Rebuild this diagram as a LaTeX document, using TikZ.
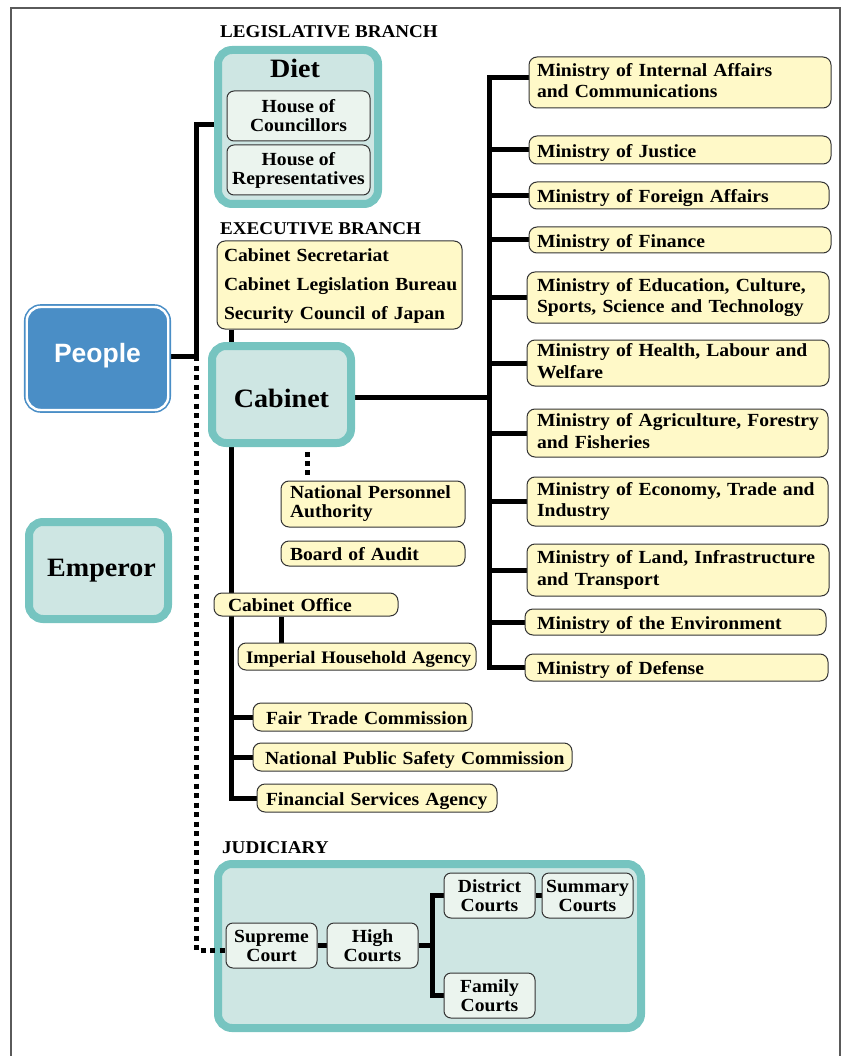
\documentclass[tikz,border=0pt]{standalone}
\usepackage{fontspec}
\setmainfont{Liberation Serif}[FakeStretch=1.06]
\setsansfont{Liberation Sans}
\usetikzlibrary{calc}
\pgfdeclarelayer{back}
\pgfdeclarelayer{background}
\pgfsetlayers{back,background,main}
\definecolor{tealB}{RGB}{118,196,192}
\definecolor{tealF}{RGB}{206,230,227}
\definecolor{lightF}{RGB}{235,244,238}
\definecolor{yelF}{RGB}{255,249,200}
\definecolor{bord}{RGB}{51,51,51}
\definecolor{pblue}{RGB}{74,142,198}
\definecolor{frameC}{RGB}{90,90,90}
\newcommand\lns[1]{\begin{tabular}{@{}l@{}}#1\end{tabular}}
\tikzset{
 conn/.style={line width=5pt, black},
 dotc/.style={line width=5pt, black, dash pattern=on 5pt off 4.5pt},
 ybox/.style={draw=bord, line width=1pt, fill=yelF, rounded corners=8pt, inner xsep=8pt, inner ysep=0pt, align=left, font=\fontsize{18.5}{21.5}\selectfont\bfseries},
 one/.style={text height=17pt, text depth=2.5pt},
 cbox/.style={draw=bord, line width=1pt, fill=lightF, rounded corners=7pt, inner sep=0pt, align=center, font=\fontsize{18.5}{19}\selectfont\bfseries, minimum width=91pt, minimum height=45pt},
 tbox/.style={draw=tealB, line width=8pt, fill=tealF, rounded corners=14pt, inner sep=0pt},
 big/.style={font=\fontsize{26.5}{30}\selectfont\bfseries},
 lbl/.style={anchor=west, inner sep=0pt, font=\fontsize{18}{21}\selectfont\bfseries},
}
\begin{document}
\begin{tikzpicture}[x=1pt,y=-1pt]
\useasboundingbox (0,0) rectangle (843,1056);
\begin{pgfonlayer}{back}
 \draw[line width=1.3pt, frameC] (11,1056) -- (11,8) -- (840,8) -- (840,1056);
 \node[tbox, minimum width=160pt, minimum height=154pt] (diet) at (298,127) {};
 \node[tbox, minimum width=423pt, minimum height=164pt] (jud) at (429.5,946) {};
\end{pgfonlayer}

% labels
\node[lbl] (lleg) at (220,31.5) {LEGISLATIVE BRANCH};
\node[lbl] (lexe) at (220,229) {EXECUTIVE BRANCH};
\node[lbl] (ljud) at (222,847.5) {JUDICIARY};

% Diet
\node[big, inner sep=0pt] (dietT) at (295,68) {Diet};
\node[cbox, minimum width=143pt, minimum height=50pt] (hoc) at (298.5,116) {House of\\Councillors};
\node[cbox, minimum width=143pt, minimum height=50pt] (hor) at (298.5,170) {House of\\Representatives};

% People / Emperor / Cabinet
\node[draw=pblue, line width=1.6pt, double=white, double distance=2.4pt, fill=pblue, rounded corners=14pt, minimum width=141.5pt, minimum height=103pt, inner sep=0pt, text=white, text depth=11.5pt, font=\sffamily\bfseries\fontsize{26.5}{30}\selectfont] (people) at (97.5,358.5) {People};
\node[tbox, big, minimum width=139pt, minimum height=97pt] (emp) at (98.5,570.5) {\hspace*{6pt}Emperor};
\node[tbox, big, text height=25pt, text depth=0pt, minimum width=139pt, minimum height=97pt] (cab) at (281.5,394.5) {Cabinet};

% executive boxes
\node[ybox, font=\fontsize{18.5}{29}\selectfont\bfseries, inner xsep=7pt, text width=231pt, minimum height=88pt] (secr) at (339.5,285) {\lns{Cabinet Secretariat\\Cabinet Legislation Bureau\\Security Council of Japan}};
\node[ybox, font=\fontsize{18.5}{19}\selectfont\bfseries, inner xsep=9pt, text width=166pt, minimum height=46pt] (npa) at (373,504) {\lns{National Personnel\\Authority}};
\node[ybox, one, inner xsep=9pt, text width=166pt, minimum height=25pt] (boa) at (373,553.5) {\lns{Board of Audit}};
\node[ybox, one, inner xsep=14pt, text width=156pt, minimum height=23pt] (cabo) at (306,604.5) {\lns{Cabinet Office}};
\node[ybox, one, font=\fontsize{17.6}{21}\selectfont\bfseries, inner xsep=8pt, text width=222pt, minimum height=27pt] (iha) at (357,656.5) {\lns{Imperial Household Agency}};
\node[ybox, one, inner xsep=13pt, text width=193pt, minimum height=28pt] (ftc) at (362.5,717) {\lns{Fair Trade Commission}};
\node[ybox, one, inner xsep=12pt, text width=295pt, minimum height=28pt] (npsc) at (412.5,757) {\lns{National Public Safety Commission}};
\node[ybox, one, inner xsep=9pt, text width=222pt, minimum height=28pt] (fsa) at (377,798) {\lns{Financial Services Agency}};

% ministries
\node[ybox, text width=286pt, minimum height=51pt] (m1) at (680,82.5) {\lns{Ministry of Internal Affairs\\and Communications}};
\node[ybox, one, text width=286pt, minimum height=28pt] (m2) at (680,150) {\lns{Ministry of Justice}};
\node[ybox, one, text width=284pt, minimum height=27pt] (m3) at (679,195.5) {\lns{Ministry of Foreign Affairs}};
\node[ybox, one, text width=286pt, minimum height=26pt] (m4) at (680,240) {\lns{Ministry of Finance}};
\node[ybox, inner xsep=10pt, text width=282pt, minimum height=51pt] (m5) at (678,297.5) {\lns{Ministry of Education, Culture,\\Sports, Science and Technology}};
\node[ybox, inner xsep=10pt, text width=282pt, minimum height=46pt] (m6) at (678,363) {\lns{Ministry of Health, Labour and\\Welfare}};
\node[ybox, inner xsep=10pt, text width=281pt, minimum height=48pt] (m7) at (677.5,433) {\lns{Ministry of Agriculture, Forestry\\and Fisheries}};
\node[ybox, inner xsep=10pt, text width=281pt, minimum height=49pt] (m8) at (677.5,501.5) {\lns{Ministry of Economy, Trade and\\Industry}};
\node[ybox, inner xsep=10pt, text width=282pt, minimum height=52pt] (m9) at (678,570) {\lns{Ministry of Land, Infrastructure\\and Transport}};
\node[ybox, one, inner xsep=12pt, text width=277pt, minimum height=26pt] (m10) at (675.5,622) {\lns{Ministry of the Environment}};
\node[ybox, one, inner xsep=12pt, text width=279pt, minimum height=27pt] (m11) at (676.5,667.5) {\lns{Ministry of Defense}};

% courts
\node[cbox] (sc) at (271.5,945.5) {Supreme\\Court};
\node[cbox] (hc) at (372.5,945.5) {High\\Courts};
\node[cbox] (dc) at (489.5,895.5) {District\\Courts};
\node[cbox] (smc) at (587.5,895.5) {Summary\\Courts};
\node[cbox] (fc) at (489.5,995.5) {Family\\Courts};

% connectors
\coordinate (lj) at (196,356);
\coordinate (ld) at (196,950);
\coordinate (sp) at (231.5,0);
\coordinate (ci) at (281,0);
\coordinate (cn) at (307,0);
\coordinate (msp) at (489.5,0);
\coordinate (jx) at (432,0);
\begin{pgfonlayer}{background}
 \draw[conn] (people.east |- lj) -- (lj) |- ($(diet.west)+(0,-2)$);
 \draw[dotc] (lj) -- (ld) -- (ld -| sc.west);
 \draw[conn] (secr.south -| sp) -- (sp |- fsa.west) -- (fsa.west);
 \draw[conn] (sp |- ftc.west) -- (ftc.west);
 \draw[conn] (sp |- npsc.west) -- (npsc.west);
 \draw[conn] (cabo.south -| ci) -- (iha.north -| ci);
 \draw[dotc, dash pattern=on 5pt off 4pt] ($(cab.south -| cn)+(0,5)$) -- ($(npa.north -| cn)+(0,-6)$);
 \draw[conn] ($(cab.east)+(0,2.5)$) -- ($(cab.east -| msp)+(0,2.5)$);
 \draw[conn] ($(m1.west)+(0,-5)$) -| (msp |- m11.west) -- (m11.west);
 \foreach \m in {m2,m3,m4,m5,m6,m7,m8,m9,m10} \draw[conn] (msp |- \m.west) -- (\m.west);
 \draw[conn] (sc.east) -- (hc.west);
 \draw[conn] (hc.east) -- (hc.east -| jx);
 \draw[conn] (dc.west) -| (jx |- fc.west) -- (fc.west);
 \draw[conn] (dc.east) -- (smc.west);
\end{pgfonlayer}
\end{tikzpicture}
\end{document}
